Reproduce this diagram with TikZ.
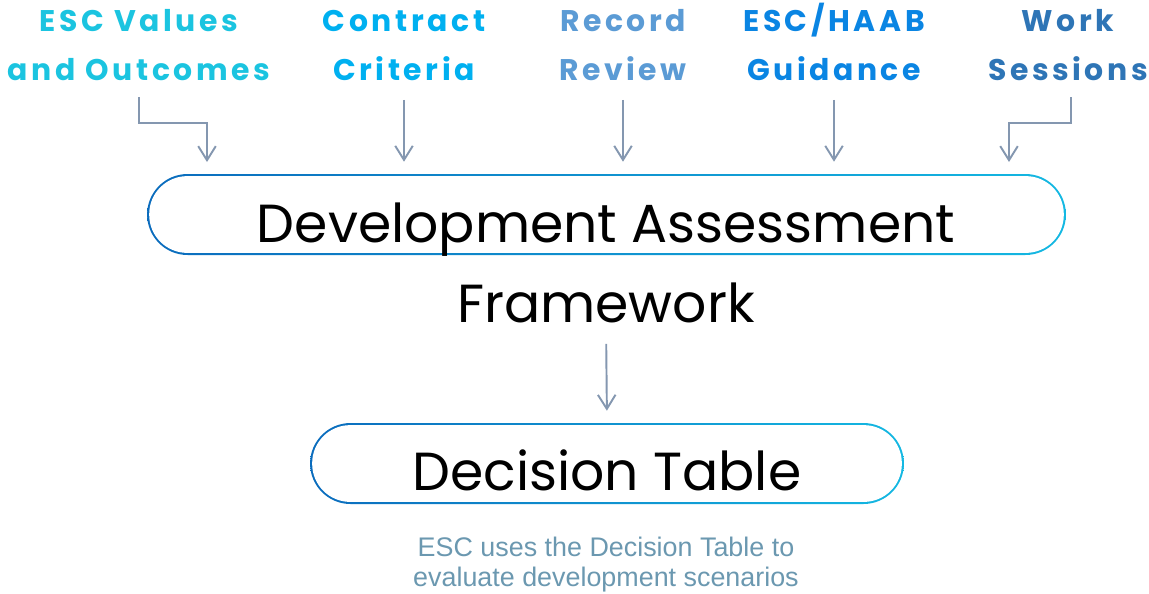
\documentclass[tikz,border=0pt]{standalone}
\usepackage{fontspec}
\setmainfont{Poppins}
\newfontfamily\lblfont[LetterSpace=12]{Poppins}
\newfontfamily\notefont{Liberation Sans}
\usetikzlibrary{positioning,arrows.meta,shapes.misc}

\definecolor{valcol}{HTML}{1BC4E0}
\definecolor{concol}{HTML}{00B0F0}
\definecolor{reccol}{HTML}{5B9BD5}
\definecolor{haabcol}{HTML}{0A85E3}
\definecolor{workcol}{HTML}{2E75B6}
\definecolor{feedcol}{HTML}{8497B0}
\definecolor{notecol}{HTML}{6B98B0}
\definecolor{pilldark}{HTML}{0B6CBD}
\definecolor{pilllight}{HTML}{14B8E2}

\tikzset{
  lbl/.style={font=\lblfont\fontsize{17}{27.8}\selectfont\bfseries, align=center, inner sep=0pt, anchor=base},
  feed/.style={draw=feedcol, line width=1.1pt, -{Straight Barb[length=8pt,width=10pt]}},
  pill/.style={rounded rectangle, inner sep=0pt, minimum height=1.62cm,
    path picture={
      \shade[left color=pilldark, right color=pilllight]
        (path picture bounding box.south west) rectangle (path picture bounding box.north east);
      \fill[white, rounded corners=0.76cm]
        ([shift={(1.2pt,-1.2pt)}]path picture bounding box.north west) rectangle
        ([shift={(-1.2pt,1.2pt)}]path picture bounding box.south east);
    }},
  big/.style={font=\fontsize{30.5}{45}\selectfont, align=center, inner sep=0pt, anchor=base}
}

\begin{document}
\begin{tikzpicture}[x=0.02cm,y=-0.02cm]
\useasboundingbox (0,0) rectangle (1149,593);

\node[lbl, text=valcol] (val) at (139,80) {ESC Values\\and Outcomes};
\node[lbl, text=concol] (con) at (404,80) {Contract\\Criteria};
\node[lbl, text=reccol] (rec) at (623,80) {Record\\Review};
\node[lbl, text=haabcol] (haab) at (834,80) {ESC/HAAB\\Guidance};
\node[lbl, text=workcol] (work) at (1068,80) {Work\\Sessions};

\node[pill, minimum width=18.38cm] (dab) at (606.5,214.5) {};
\node[big] (dat) at (606,322) {Development Assessment\\Framework};
\node[pill, minimum width=11.88cm] (dtb) at (607,463.5) {};
\node[big] (dtt) at (607,490) {Decision Table};
\node[font=\notefont\fontsize{15.3}{17}\selectfont, text=notecol, align=center, anchor=base] (note)
  at (606,586.5) {ESC uses the Decision Table to\\evaluate development scenarios};

\coordinate (t1) at (207,162);
\coordinate (t5) at (1009,162);

\draw[feed] ([yshift=-9.6pt]val.south) -- ++(0,26) -| (t1);
\draw[feed, shorten <=11pt, shorten >=6.8pt] (con.south) -- (con.south |- dab.north);
\draw[feed, shorten <=11pt, shorten >=6.8pt] (rec.south) -- (rec.south |- dab.north);
\draw[feed, shorten <=11pt, shorten >=6.8pt] (haab.south) -- (haab.south |- dab.north);
\draw[feed] ([xshift=1.7pt,yshift=-9.6pt]work.south) -- ++(0,26) -| (t5);
\draw[feed, shorten <=12pt, shorten >=6.8pt] (dat.south) -- (dtb.north);
\end{tikzpicture}
\end{document}
